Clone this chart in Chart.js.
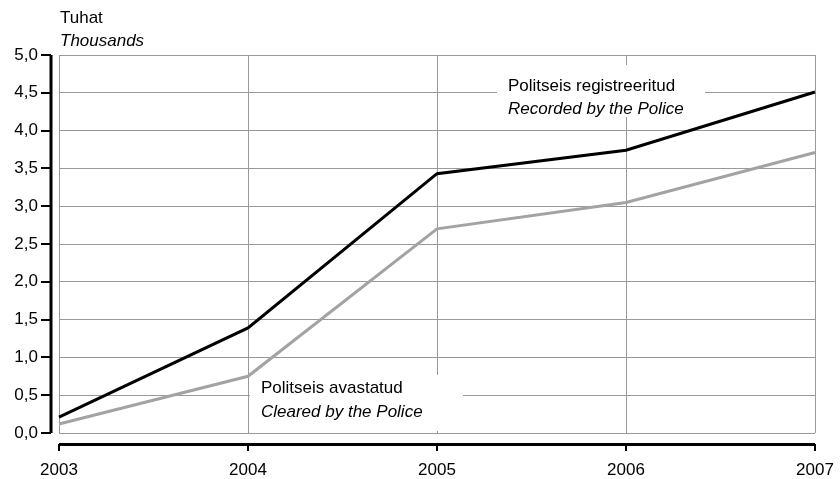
<!DOCTYPE html>
<html lang="et">
<head>
  <meta charset="UTF-8" />
  <title>Politseis registreeritud ja avastatud</title>
  <script src="https://cdn.jsdelivr.net/npm/chart.js"></script>
  <style>
    html, body { margin: 0; padding: 0; background: #fff; }
    #wrap { width: 840px; height: 479px; }
  </style>
</head>
<body>
  <div id="wrap"><canvas id="graafik" width="840" height="479"></canvas></div>

  <script>
    // aastad ja väärtused (tuhat)
    const aastad = ['2003', '2004', '2005', '2006', '2007'];
    const registreeritud = [0.21, 1.39, 3.43, 3.74, 4.51];
    const avastatud = [0.12, 0.75, 2.70, 3.05, 3.71];
    const yMin = 0, yMax = 5, ySamm = 0.5;

    const FONT = 'Arial, "Liberation Sans", sans-serif';

    // pealkiri, siltide kastid ja teljejooned
    const lisad = {
      id: 'lisad',
      beforeDatasetsDraw(chart) {
        const c = chart.ctx;
        c.save();
        c.fillStyle = '#fff';
        c.fillRect(497, 65, 208, 52);
        c.fillRect(250, 375, 213, 56);
        c.restore();
      },
      afterDraw(chart) {
        const c = chart.ctx;
        const a = chart.chartArea;
        const xs = chart.scales.x, ys = chart.scales.y;
        c.save();
        c.fillStyle = '#000';
        c.textBaseline = 'alphabetic';
        c.textAlign = 'left';

        c.font = '17px ' + FONT;
        c.fillText('Tuhat', 60, 23);
        c.font = 'italic 17px ' + FONT;
        c.fillText('Thousands', 60, 46);

        c.font = '17px ' + FONT;
        c.fillText('Politseis registreeritud', 508, 91);
        c.font = 'italic 17px ' + FONT;
        c.fillText('Recorded by the Police', 508, 114);

        c.font = '17px ' + FONT;
        c.fillText('Politseis avastatud', 261, 393);
        c.font = 'italic 17px ' + FONT;
        c.fillText('Cleared by the Police', 261, 417);

        // y-telg
        c.strokeStyle = '#000';
        c.lineWidth = 3;
        c.beginPath();
        c.moveTo(a.left - 8, a.top);
        c.lineTo(a.left - 8, a.bottom);
        c.stroke();
        c.lineWidth = 2;
        ys.ticks.forEach(t => {
          const y = Math.round(ys.getPixelForValue(t.value));
          c.beginPath();
          c.moveTo(a.left - 18, y);
          c.lineTo(a.left - 8, y);
          c.stroke();
        });

        // x-telg
        c.lineWidth = 3;
        c.beginPath();
        c.moveTo(a.left, a.bottom + 11.5);
        c.lineTo(a.right, a.bottom + 11.5);
        c.stroke();
        c.lineWidth = 2;
        aastad.forEach((_, i) => {
          const x = Math.round(xs.getPixelForValue(i));
          c.beginPath();
          c.moveTo(x, a.bottom + 11);
          c.lineTo(x, a.bottom + 18);
          c.stroke();
        });
        c.restore();
      }
    };

    new Chart(document.getElementById('graafik'), {
      type: 'line',
      data: {
        labels: aastad,
        datasets: [
          {
            label: 'Politseis registreeritud',
            data: registreeritud,
            borderColor: '#000000',
            borderWidth: 3,
            pointRadius: 0,
            tension: 0
          },
          {
            label: 'Politseis avastatud',
            data: avastatud,
            borderColor: '#a3a3a3',
            borderWidth: 3,
            pointRadius: 0,
            tension: 0
          }
        ]
      },
      options: {
        responsive: false,
        animation: false,
        events: [],
        layout: { padding: { left: 0, right: 25, top: 55, bottom: 0 } },
        plugins: { legend: { display: false }, tooltip: { enabled: false } },
        scales: {
          x: {
            offset: false,
            grid: { color: '#999999', lineWidth: 1, drawTicks: false },
            border: { display: false },
            ticks: { color: '#000', font: { family: FONT, size: 17 }, padding: 27, maxRotation: 0 },
            afterFit(s) {
              s.height = 46;
              s.paddingLeft = 0;
              s.paddingRight = 0;
            }
          },
          y: {
            min: yMin,
            max: yMax,
            grid: { color: '#999999', lineWidth: 1, drawTicks: false },
            border: { display: false },
            ticks: {
              stepSize: ySamm,
              color: '#000',
              font: { family: FONT, size: 17 },
              padding: 21,
              callback: v => v.toFixed(1).replace('.', ',')
            },
            afterFit(s) { s.width = 59; }
          }
        }
      },
      plugins: [lisad]
    });
  </script>
</body>
</html>
